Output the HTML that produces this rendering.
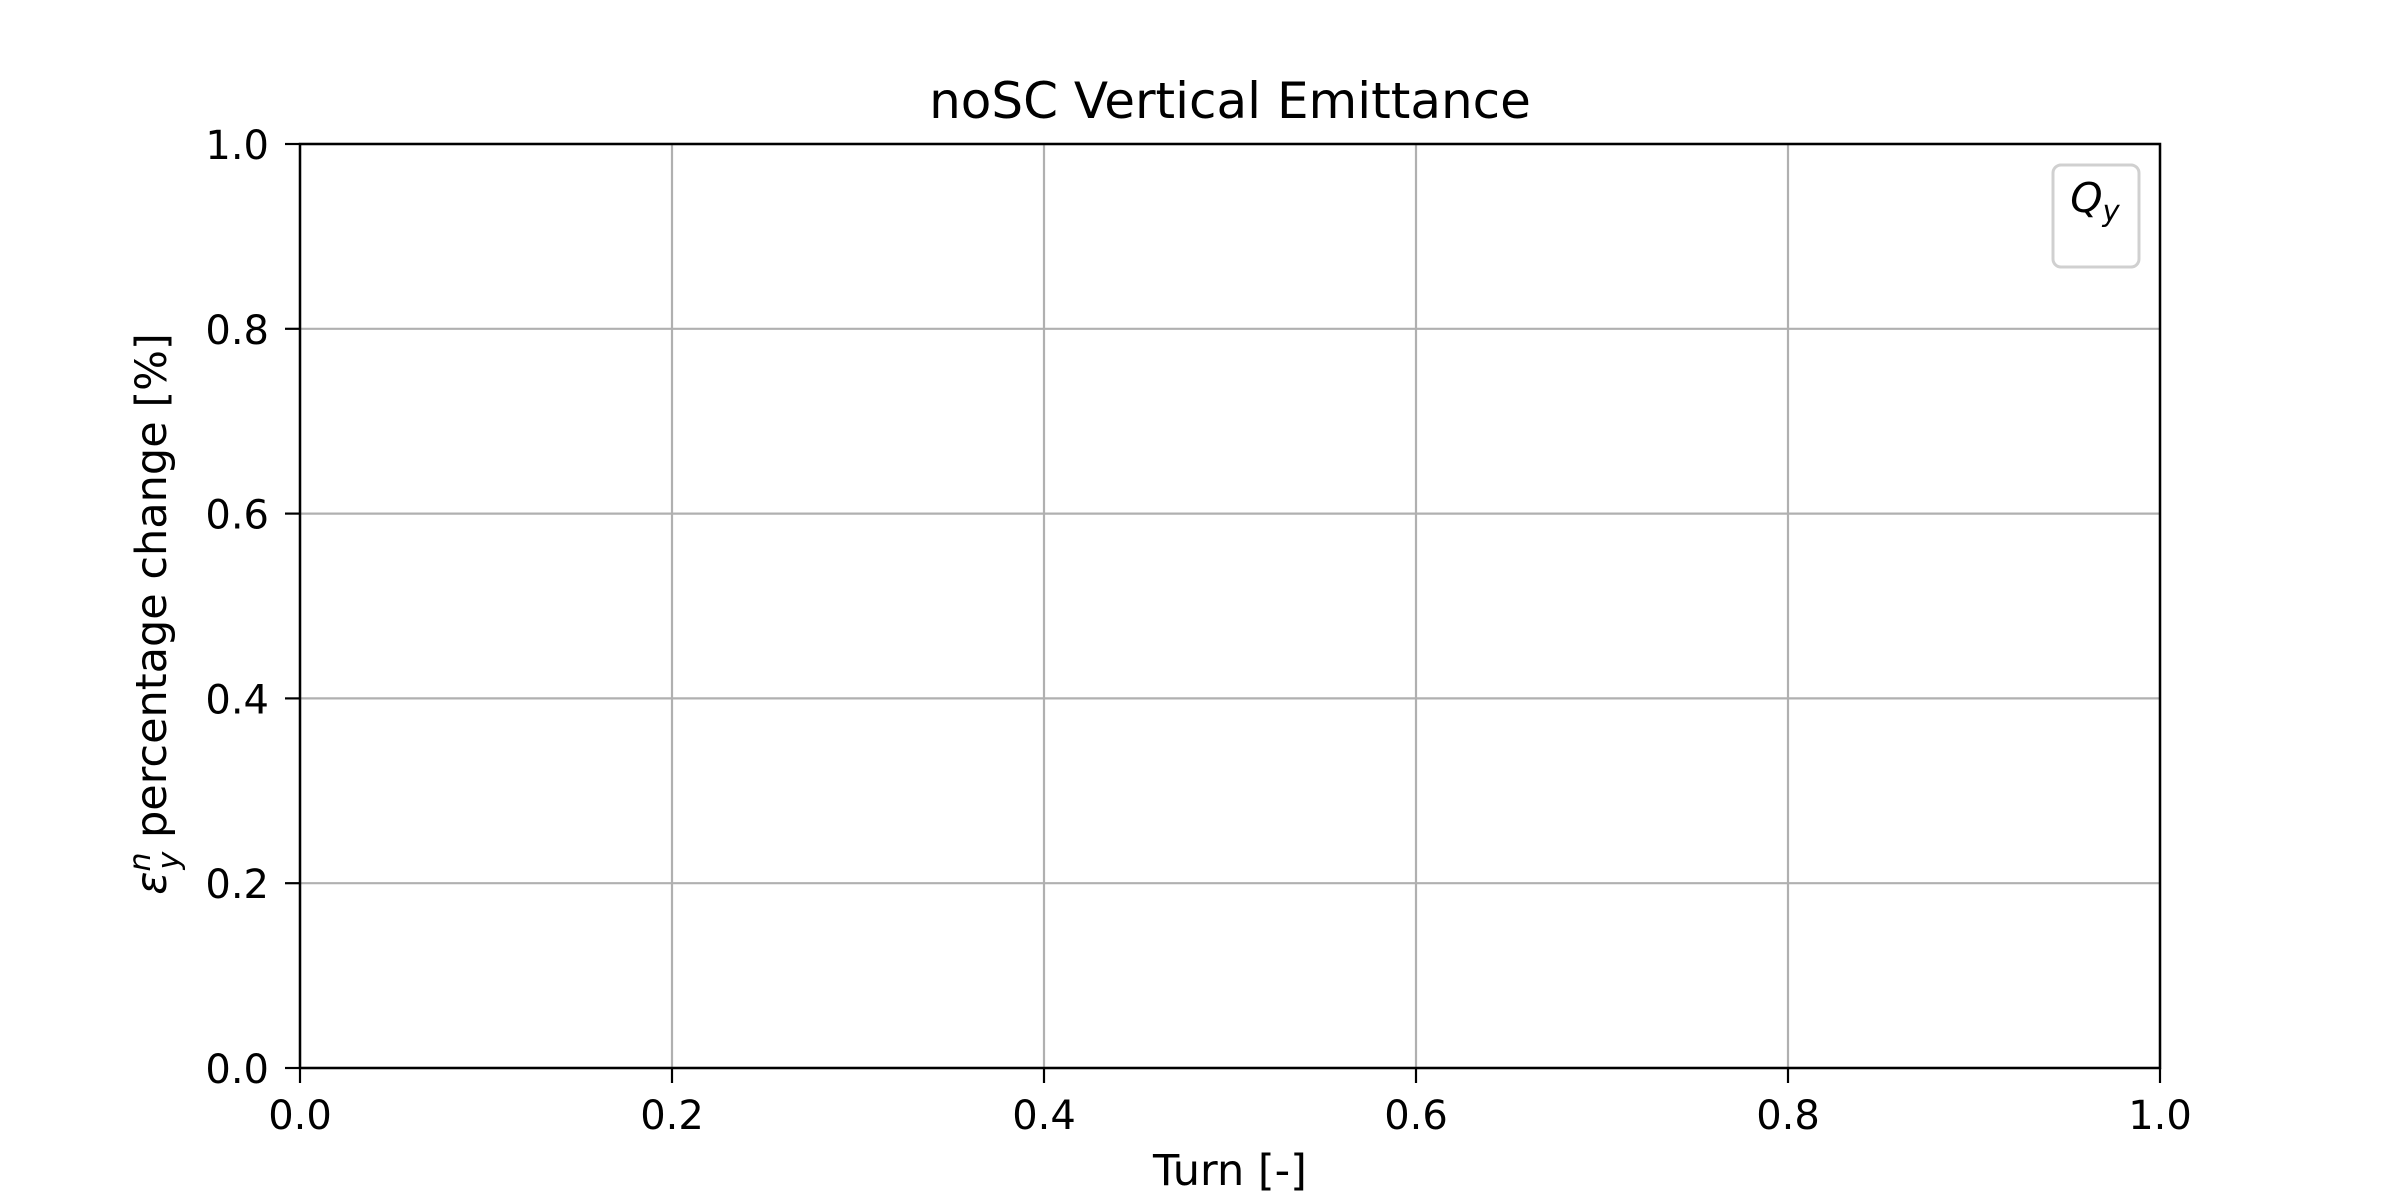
<!DOCTYPE html>
<html><head><meta charset="utf-8"><style>
html,body{margin:0;padding:0;background:#fff;}
svg{display:block;font-family:"DejaVu Sans","Liberation Sans",sans-serif;}
</style></head><body>
<svg id="chart" width="2400" height="1200" viewBox="0 0 2400 1200">
<rect width="2400" height="1200" fill="#fff"/>
<g id="grid"></g>
<g id="ticks"></g>
<rect x="300" y="144" width="1860" height="924" fill="none" stroke="#000" stroke-width="2.5"/>
<text x="1230" y="118" text-anchor="middle" font-size="50">noSC Vertical Emittance</text>
<text x="1230" y="1185" text-anchor="middle" font-size="43">Turn [-]</text>
<text transform="translate(166,614) rotate(-90)" text-anchor="middle" font-size="43"><tspan font-style="italic">ε</tspan><tspan font-style="italic" font-size="30" dy="-16">n</tspan><tspan font-style="italic" font-size="30" dx="-17" dy="29">y</tspan><tspan dy="-13"> percentage change [%]</tspan></text>
<g>
<rect x="2053" y="165" width="86" height="102" rx="8" fill="#fff" fill-opacity="0.8" stroke="#d0d0d0" stroke-width="3"/>
<text x="2095" y="212" text-anchor="middle" font-size="41" font-style="italic">Q<tspan font-size="29" dy="9">y</tspan></text>
</g>
</svg>
<script>
const xTicks = [0.0, 0.2, 0.4, 0.6, 0.8, 1.0];
const yTicks = [0.0, 0.2, 0.4, 0.6, 0.8, 1.0];
const xDomain = [0, 1];
const yDomain = [0, 1];
const L = 300, R = 2160, T = 144, B = 1068;
const sx = v => L + (v - xDomain[0]) / (xDomain[1] - xDomain[0]) * (R - L);
const sy = v => B - (v - yDomain[0]) / (yDomain[1] - yDomain[0]) * (B - T);
const NS = 'http://www.w3.org/2000/svg';
const grid = document.getElementById('grid');
const ticks = document.getElementById('ticks');
function mk(tag, attrs, parent) {
  const e = document.createElementNS(NS, tag);
  for (const k in attrs) e.setAttribute(k, attrs[k]);
  parent.appendChild(e);
  return e;
}
xTicks.forEach(v => {
  const x = sx(v);
  const g = mk('line', {x1: x, x2: x, y1: T, y2: B, stroke: '#b0b0b0', 'stroke-width': 2.2}, grid);
  
  
  const t = mk('line', {x1: x, x2: x, y1: B, y2: B + 15, stroke: '#000', 'stroke-width': 2.2}, ticks);
  
  
  const l = mk('text', {x: x, y: 1129, 'text-anchor': 'middle', 'font-size': 40}, ticks);
  l.textContent = v.toFixed(1);
  
  
});
yTicks.forEach(v => {
  const y = sy(v);
  const g = mk('line', {x1: L, x2: R, y1: y, y2: y, stroke: '#b0b0b0', 'stroke-width': 2.2}, grid);
  
  
  const t = mk('line', {x1: L - 15, x2: L, y1: y, y2: y, stroke: '#000', 'stroke-width': 2.2}, ticks);
  
  
  const l = mk('text', {x: 269, y: y + 15, 'text-anchor': 'end', 'font-size': 40}, ticks);
  l.textContent = v.toFixed(1);
  
  
});
</script>
</body></html>
